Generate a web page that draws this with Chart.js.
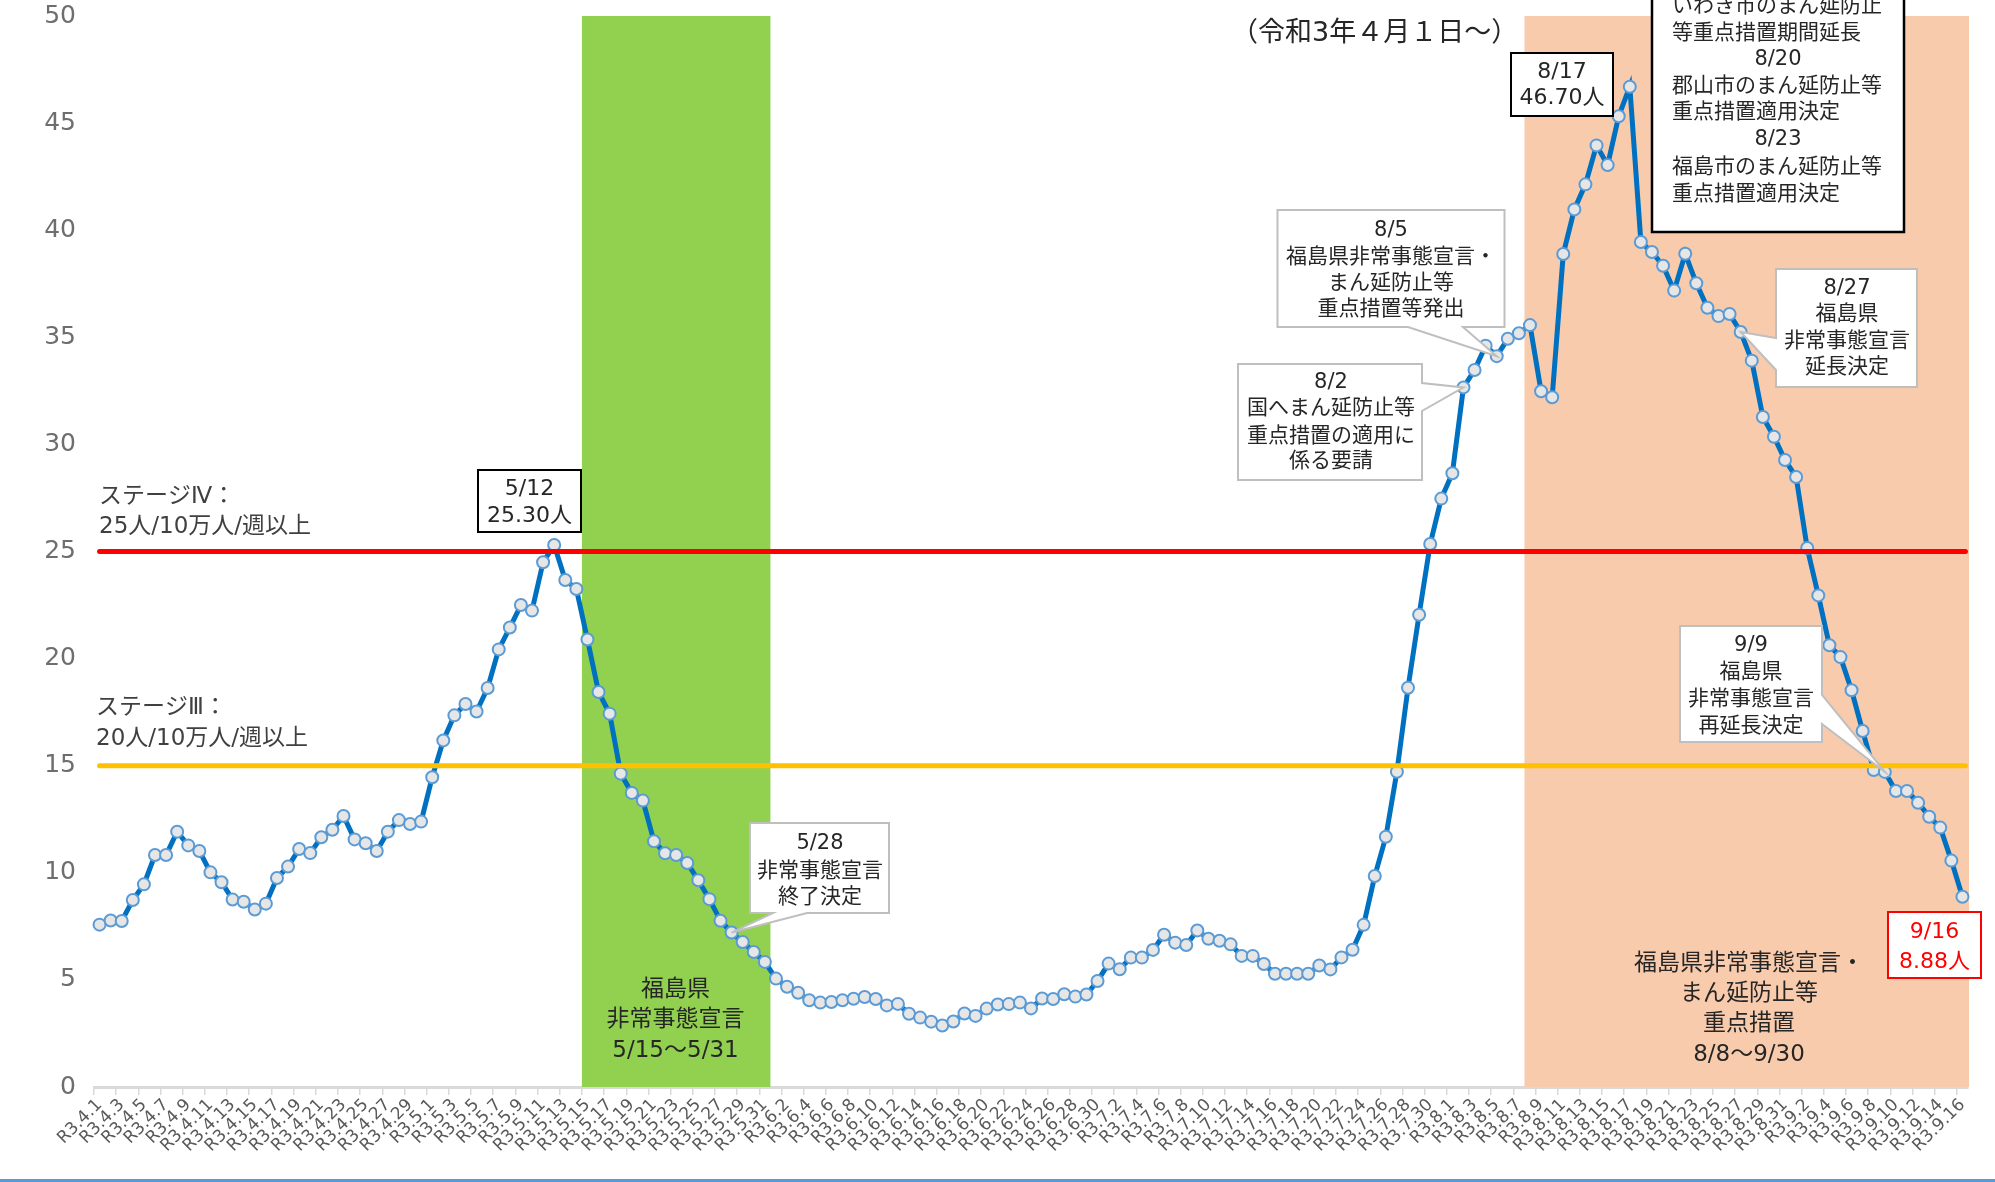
<!DOCTYPE html>
<html><head><meta charset="utf-8">
<script src="https://cdn.jsdelivr.net/npm/chart.js@4.4.1/dist/chart.umd.min.js"></script>
<style>html,body{margin:0;padding:0;background:#fff;overflow:hidden}#wrap{position:relative;width:1995px;height:1182px}</style>
</head><body><div id="wrap"><canvas id="c"></canvas></div>
<script>
const categories = [
"R3.4.1","R3.4.2","R3.4.3","R3.4.4","R3.4.5","R3.4.6","R3.4.7","R3.4.8","R3.4.9","R3.4.10",
"R3.4.11","R3.4.12","R3.4.13","R3.4.14","R3.4.15","R3.4.16","R3.4.17","R3.4.18","R3.4.19","R3.4.20",
"R3.4.21","R3.4.22","R3.4.23","R3.4.24","R3.4.25","R3.4.26","R3.4.27","R3.4.28","R3.4.29","R3.4.30",
"R3.5.1","R3.5.2","R3.5.3","R3.5.4","R3.5.5","R3.5.6","R3.5.7","R3.5.8","R3.5.9","R3.5.10",
"R3.5.11","R3.5.12","R3.5.13","R3.5.14","R3.5.15","R3.5.16","R3.5.17","R3.5.18","R3.5.19","R3.5.20",
"R3.5.21","R3.5.22","R3.5.23","R3.5.24","R3.5.25","R3.5.26","R3.5.27","R3.5.28","R3.5.29","R3.5.30","R3.5.31",
"R3.6.1","R3.6.2","R3.6.3","R3.6.4","R3.6.5","R3.6.6","R3.6.7","R3.6.8","R3.6.9","R3.6.10",
"R3.6.11","R3.6.12","R3.6.13","R3.6.14","R3.6.15","R3.6.16","R3.6.17","R3.6.18","R3.6.19","R3.6.20",
"R3.6.21","R3.6.22","R3.6.23","R3.6.24","R3.6.25","R3.6.26","R3.6.27","R3.6.28","R3.6.29","R3.6.30",
"R3.7.1","R3.7.2","R3.7.3","R3.7.4","R3.7.5","R3.7.6","R3.7.7","R3.7.8","R3.7.9","R3.7.10",
"R3.7.11","R3.7.12","R3.7.13","R3.7.14","R3.7.15","R3.7.16","R3.7.17","R3.7.18","R3.7.19","R3.7.20",
"R3.7.21","R3.7.22","R3.7.23","R3.7.24","R3.7.25","R3.7.26","R3.7.27","R3.7.28","R3.7.29","R3.7.30","R3.7.31",
"R3.8.1","R3.8.2","R3.8.3","R3.8.4","R3.8.5","R3.8.6","R3.8.7","R3.8.8","R3.8.9","R3.8.10",
"R3.8.11","R3.8.12","R3.8.13","R3.8.14","R3.8.15","R3.8.16","R3.8.17","R3.8.18","R3.8.19","R3.8.20",
"R3.8.21","R3.8.22","R3.8.23","R3.8.24","R3.8.25","R3.8.26","R3.8.27","R3.8.28","R3.8.29","R3.8.30","R3.8.31",
"R3.9.1","R3.9.2","R3.9.3","R3.9.4","R3.9.5","R3.9.6","R3.9.7","R3.9.8","R3.9.9","R3.9.10",
"R3.9.11","R3.9.12","R3.9.13","R3.9.14","R3.9.15","R3.9.16"
];
const values = [
7.58,7.77,7.75,8.73,9.46,10.83,10.83,11.92,11.28,11.02,
10.02,9.56,8.75,8.65,8.29,8.56,9.76,10.29,11.11,10.92,
11.66,12.01,12.65,11.56,11.38,11.02,11.92,12.46,12.28,12.39,
14.46,16.18,17.35,17.88,17.53,18.63,20.43,21.45,22.50,22.24,
24.50,25.30,23.67,23.25,20.89,18.44,17.43,14.63,13.73,13.37,
11.47,10.91,10.83,10.46,9.65,8.77,7.76,7.21,6.77,6.30,5.84,
5.06,4.68,4.40,4.05,3.94,3.97,4.05,4.12,4.20,4.11,
3.81,3.88,3.42,3.24,3.05,2.87,3.06,3.43,3.32,3.66,
3.85,3.87,3.94,3.67,4.13,4.11,4.33,4.22,4.32,4.95,
5.76,5.50,6.04,6.04,6.40,7.11,6.74,6.63,7.31,6.92,
6.83,6.66,6.12,6.12,5.74,5.29,5.29,5.29,5.29,5.67,
5.49,6.05,6.41,7.57,9.85,11.68,14.72,18.64,22.05,25.35,27.47,
28.65,32.66,33.47,34.61,34.12,34.93,35.19,35.57,32.48,32.20,
38.89,40.97,42.14,43.96,43.04,45.32,46.70,39.45,38.98,38.34,
37.18,38.90,37.52,36.38,35.99,36.09,35.25,33.91,31.28,30.36,29.27,
28.48,25.16,22.95,20.62,20.07,18.52,16.62,14.80,14.71,13.82,
13.82,13.27,12.62,12.11,10.57,8.88
];
const yMin = 0, yMax = 50, yStep = 5;
const STAGE4 = 25, STAGE3 = 15;
const greenBand = ["R3.5.15", "R3.5.31"];
const orangeBand = ["R3.8.8", null]; // runs to 9/30, beyond the data

const MIX = '"DejaVu Sans","Noto Sans CJK JP",sans-serif';
const TXT = '#262626';

function idx(label){ return categories.indexOf(label); }
function half(x){ return (x.getPixelForValue(1) - x.getPixelForValue(0)) / 2; }
function pt(chart, label){
  const i = idx(label);
  return {x: chart.scales.x.getPixelForValue(i), y: chart.scales.y.getPixelForValue(values[i])};
}

const bandPlugin = {
  id: 'bands',
  beforeDatasetsDraw(chart){
    const {ctx, chartArea:a, scales:{x}} = chart;
    const h = half(x);
    ctx.save();
    const g0 = x.getPixelForValue(idx(greenBand[0])) - h;
    const g1 = x.getPixelForValue(idx(greenBand[1])) + h;
    ctx.fillStyle = '#92D050';
    ctx.fillRect(g0, a.top, g1 - g0, a.bottom - a.top);
    const o0 = x.getPixelForValue(idx(orangeBand[0])) - h;
    ctx.fillStyle = '#F8CBAD';
    ctx.fillRect(o0, a.top, a.right + 1 - o0, a.bottom - a.top);
    ctx.restore();
  }
};

const thresholdPlugin = {
  id: 'thresholds',
  afterDatasetsDraw(chart){
    const {ctx, scales:{x, y}} = chart;
    const x0 = x.getPixelForValue(0), x1 = x.getPixelForValue(categories.length - 1) + 3;
    ctx.save();
    ctx.lineCap = 'round';
    ctx.lineWidth = 5;
    [[STAGE4, '#FF0000'], [STAGE3, '#FFC000']].forEach(([v, c]) => {
      const yy = y.getPixelForValue(v);
      ctx.strokeStyle = c;
      ctx.beginPath(); ctx.moveTo(x0, yy); ctx.lineTo(x1, yy); ctx.stroke();
    });
    ctx.restore();
  }
};

function text(ctx, s, x, y, size, color, align, fam){
  ctx.font = size + 'px ' + (fam || MIX);
  ctx.fillStyle = color || TXT;
  ctx.textAlign = align || 'center';
  ctx.textBaseline = 'middle';
  ctx.fillText(s, x, y);
}
function box(ctx, l, t, r, b, stroke, lw, fill){
  ctx.fillStyle = fill || '#fff';
  ctx.fillRect(l, t, r - l, b - t);
  ctx.strokeStyle = stroke; ctx.lineWidth = lw;
  ctx.strokeRect(l, t, r - l, b - t);
}
function callout(ctx, l, t, r, b, side, a1, a2, tip){
  ctx.beginPath();
  ctx.moveTo(l, t); ctx.lineTo(r, t);
  if (side === 'right'){ ctx.lineTo(r, a1); ctx.lineTo(tip.x, tip.y); ctx.lineTo(r, a2); }
  ctx.lineTo(r, b);
  if (side === 'bottom'){ ctx.lineTo(a2, b); ctx.lineTo(tip.x, tip.y); ctx.lineTo(a1, b); }
  ctx.lineTo(l, b);
  if (side === 'left'){ ctx.lineTo(l, a2); ctx.lineTo(tip.x, tip.y); ctx.lineTo(l, a1); }
  ctx.closePath();
  ctx.fillStyle = '#fff'; ctx.fill();
  ctx.strokeStyle = '#BFBFBF'; ctx.lineWidth = 2; ctx.lineJoin = 'miter'; ctx.stroke();
}

const annotPlugin = {
  id: 'annots',
  afterDraw(chart){
    const ctx = chart.ctx;
    ctx.save();
    text(ctx, 'ステージⅣ：', 99, 497, 23, '#404040', 'left');
    text(ctx, '25人/10万人/週以上', 99, 527, 23, '#404040', 'left');
    text(ctx, 'ステージⅢ：', 96, 708, 23, '#404040', 'left');
    text(ctx, '20人/10万人/週以上', 96, 739, 23, '#404040', 'left');
    text(ctx, '（令和3年４月１日～）', 1231, 34, 27, TXT, 'left');
    box(ctx, 478, 470, 581, 532, '#000', 2);
    text(ctx, '5/12', 529.5, 489, 22);
    text(ctx, '25.30人', 529.5, 516, 22);
    box(ctx, 1511, 53, 1613, 116, '#000', 2);
    text(ctx, '8/17', 1562, 72, 22);
    text(ctx, '46.70人', 1562, 98, 22);
    box(ctx, 1888, 912, 1981, 978, '#FF0000', 2);
    text(ctx, '9/16', 1934.5, 932, 22, '#FF0000');
    text(ctx, '8.88人', 1934.5, 962, 22, '#FF0000');
    box(ctx, 1652, -20, 1904, 232, '#000', 2.5);
    text(ctx, 'いわき市のまん延防止', 1672, 7, 21, TXT, 'left');
    text(ctx, '等重点措置期間延長', 1672, 34, 21, TXT, 'left');
    text(ctx, '8/20', 1778, 60, 21);
    text(ctx, '郡山市のまん延防止等', 1672, 87, 21, TXT, 'left');
    text(ctx, '重点措置適用決定', 1672, 113, 21, TXT, 'left');
    text(ctx, '8/23', 1778, 140, 21);
    text(ctx, '福島市のまん延防止等', 1672, 168, 21, TXT, 'left');
    text(ctx, '重点措置適用決定', 1672, 195, 21, TXT, 'left');

    callout(ctx, 750, 823, 889, 913, 'bottom', 773, 807, pt(chart, 'R3.5.28'));
    text(ctx, '5/28', 820, 844, 21);
    text(ctx, '非常事態宣言', 820, 872, 21);
    text(ctx, '終了決定', 820, 898, 21);

    callout(ctx, 1277.5, 210, 1504.5, 327, 'bottom', 1408, 1463, pt(chart, 'R3.8.5'));
    text(ctx, '8/5', 1391, 231, 21);
    text(ctx, '福島県非常事態宣言・', 1391, 258, 21);
    text(ctx, 'まん延防止等', 1391, 284, 21);
    text(ctx, '重点措置等発出', 1391, 310, 21);

    callout(ctx, 1238, 364, 1422, 480, 'right', 383, 411, pt(chart, 'R3.8.2'));
    text(ctx, '8/2', 1331, 383, 21);
    text(ctx, '国へまん延防止等', 1331, 409, 21);
    text(ctx, '重点措置の適用に', 1331, 437, 21);
    text(ctx, '係る要請', 1331, 462, 21);

    callout(ctx, 1776, 269, 1917, 387, 'left', 338, 370, pt(chart, 'R3.8.27'));
    text(ctx, '8/27', 1847, 289, 21);
    text(ctx, '福島県', 1847, 315, 21);
    text(ctx, '非常事態宣言', 1847, 342, 21);
    text(ctx, '延長決定', 1847, 368, 21);

    callout(ctx, 1680, 626, 1822, 742, 'right', 695, 724, pt(chart, 'R3.9.9'));
    text(ctx, '9/9', 1751, 646, 21);
    text(ctx, '福島県', 1751, 673, 21);
    text(ctx, '非常事態宣言', 1751, 700, 21);
    text(ctx, '再延長決定', 1751, 727, 21);

    text(ctx, '福島県', 675.5, 990, 23);
    text(ctx, '非常事態宣言', 675.5, 1020, 23);
    text(ctx, '5/15～5/31', 675.5, 1051, 23);
    text(ctx, '福島県非常事態宣言・', 1749, 964, 23);
    text(ctx, 'まん延防止等', 1749, 994, 23);
    text(ctx, '重点措置', 1749, 1024, 23);
    text(ctx, '8/8～9/30', 1749, 1055, 23);
    ctx.fillStyle = '#5B9BD5';
    ctx.fillRect(0, 1179, 1995, 3);
    ctx.restore();
  }
};

new Chart(document.getElementById('c'), {
  type: 'line',
  data: {
    labels: categories,
    datasets: [{
      data: values,
      borderColor: '#0070C0', borderWidth: 5,
      pointRadius: 6, pointBorderWidth: 2,
      pointBackgroundColor: '#E6E6E6', pointBorderColor: '#5B9BD5',
      tension: 0, clip: false
    }]
  },
  options: {
    responsive: true, maintainAspectRatio: false, animation: false, devicePixelRatio: 1,
    layout: {autoPadding: false, padding: {left: 0, right: 27, top: 16, bottom: 0}},
    plugins: {legend: {display: false}, tooltip: {enabled: false}},
    scales: {
      x: {
        type: 'category', offset: true,
        grid: {display: true, drawOnChartArea: false, drawTicks: true, tickLength: 8, offset: true,
               color: c => (c.index % 2 === 0 ? '#D9D9D9' : 'rgba(0,0,0,0)'), lineWidth: 1.5},
        border: {display: true, color: '#D9D9D9', width: 3},
        ticks: {autoSkip: false, maxRotation: 45, minRotation: 45, padding: 0, color: '#595959',
                font: {family: 'DejaVu Sans', size: 17},
                callback: (v, i) => (i % 2 === 0 ? categories[i] : '')},
        afterFit: s => { s.height = 95; s.paddingLeft = 0; s.paddingRight = 0; }
      },
      y: {
        min: yMin, max: yMax,
        ticks: {stepSize: yStep, padding: 18, color: '#6E6E6E', font: {family: 'DejaVu Sans', size: 25}},
        grid: {display: false, drawTicks: false},
        border: {display: false},
        afterFit: s => { s.width = 94; s.paddingTop = 0; s.paddingBottom = 0; }
      }
    }
  },
  plugins: [bandPlugin, thresholdPlugin, annotPlugin]
});
</script></body></html>
